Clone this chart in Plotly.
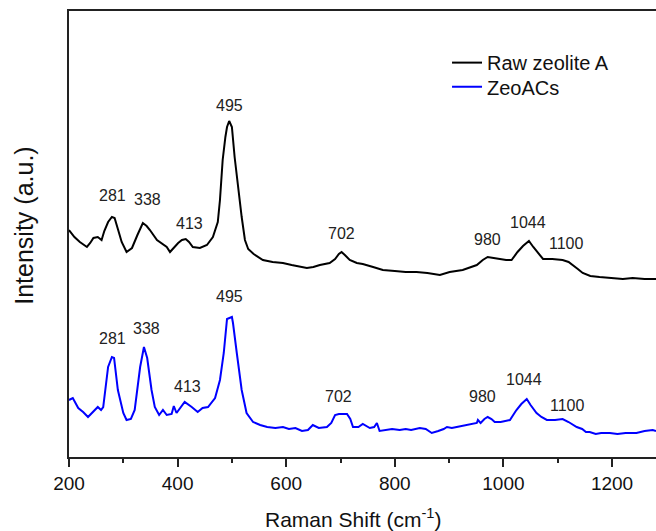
import plotly.graph_objects as go

# Raman shift (cm-1) and intensity (a.u., arbitrary offsets)
raw_x = [200, 210, 220, 233, 239, 245, 253, 260, 265, 272, 279, 284, 290, 297, 306, 316, 326, 336, 343, 349,
         362, 372, 380, 386, 394, 401, 408, 415, 421, 428, 441, 454, 465, 474, 478, 483, 488, 491, 495, 500,
         505, 511, 518, 524, 530, 540, 557, 575, 594, 610, 625, 638, 650, 662, 680, 690, 697, 702, 708, 717,
         730, 741, 760, 778, 800, 820, 840, 860, 883, 901, 925, 940, 951, 962, 971, 982, 993, 1005, 1015, 1026,
         1036, 1047, 1055, 1064, 1073, 1090, 1109, 1120, 1128, 1137, 1146, 1160, 1177, 1200, 1220, 1238, 1260, 1281]
raw_y = [227, 220, 215, 210, 214, 219, 220, 217, 226, 235, 240, 239, 228, 215, 205, 209, 222, 234, 231, 227,
         217, 213, 210, 205, 210, 214, 217, 218, 215, 210, 209, 212, 220, 235, 257, 297, 320, 330, 336, 330,
         300, 270, 240, 217, 208, 203, 197, 195, 194, 192, 190, 189, 190, 192, 194, 198, 203, 205, 202, 197,
         194, 193, 190, 187, 186, 185, 185, 184, 182, 185, 187, 190, 192, 197, 200, 199, 198, 197, 197, 205,
         211, 216, 210, 204, 198, 198, 197, 195, 192, 188, 184, 181, 180, 179, 178, 179, 178, 178]

zeo_x = [200, 207, 217, 226, 235, 244, 253, 259, 263, 272, 279, 283, 290, 300, 306, 314, 321, 331, 338, 344,
         352, 358, 366, 373, 380, 389, 393, 398, 406, 413, 426, 437, 446, 456, 469, 478, 485, 491, 500, 502,
         509, 518, 527, 539, 552, 565, 580, 594, 605, 617, 629, 640, 649, 660, 675, 683, 690, 697, 712, 718,
         723, 733, 741, 748, 754, 762, 767, 772, 785, 795, 809, 820, 830, 846, 857, 868, 880, 890, 896, 905,
         914, 925, 933, 945, 951, 953, 958, 965, 971, 978, 984, 995, 1005, 1012, 1018, 1024, 1033, 1043, 1050, 1056,
         1061, 1070, 1080, 1095, 1109, 1120, 1128, 1135, 1145, 1152, 1159, 1170, 1180, 1196, 1210, 1225, 1245, 1260,
         1275, 1281]
zeo_y = [57, 59, 49, 45, 40, 45, 50, 47, 50, 90, 100, 99, 67, 44, 37, 38, 47, 90, 110, 99,
         67, 50, 42, 47, 42, 43, 51, 44, 50, 55, 50, 45, 49, 50, 59, 77, 104, 138, 140, 134,
         104, 67, 44, 35, 32, 30, 29, 30, 28, 29, 26, 27, 32, 29, 30, 34, 42, 43, 43, 38,
         30, 30, 33, 31, 29, 30, 34, 26, 27, 28, 27, 28, 27, 29, 28, 24, 26, 28, 30, 29,
         30, 31, 32, 33, 34, 37, 34, 38, 40, 38, 35, 35, 36, 37, 42, 47, 53, 58, 52, 47,
         44, 40, 37, 37, 38, 35, 32, 30, 28, 25, 25, 23, 24, 24, 23, 24, 24, 26,
         27, 26]

# Peak labels
peak_labels = ["281", "338", "413", "495", "702", "980", "1044", "1100"]
# label anchor positions (layout): (x, y) for the raw and the ZeoACs curves
raw_label_pos = [(281, 262), (344, 258), (421, 234), (495, 352), (701, 224), (971, 218), (1045, 235), (1117, 214)]
zeo_label_pos = [(281, 119), (342, 129), (419, 71), (495, 161), (697, 61), (962, 61), (1038, 78), (1118, 52)]

x_ticks = [200, 400, 600, 800, 1000, 1200]

FONT = "Liberation Sans, Arial, sans-serif"
AX = "#222222"

fig = go.Figure()
fig.add_trace(go.Scatter(x=raw_x, y=raw_y, mode="lines", name="Raw zeolite A",
                         line=dict(color="#000000", width=2), legend="legend"))
fig.add_trace(go.Scatter(x=zeo_x, y=zeo_y, mode="lines", name="ZeoACs",
                         line=dict(color="#0000ff", width=2), legend="legend2"))

annotations = []
for lab, (px, py) in zip(peak_labels, raw_label_pos):
    annotations.append(dict(x=px, y=py, xref="x", yref="y", text=lab, showarrow=False,
                            font=dict(size=16, color="#222", family=FONT)))
for lab, (px, py) in zip(peak_labels, zeo_label_pos):
    annotations.append(dict(x=px, y=py, xref="x", yref="y", text=lab, showarrow=False,
                            font=dict(size=16, color="#222", family=FONT)))

annotations.append(dict(x=0.4838, y=-0.137, xref="paper", yref="paper",
                        xanchor="center", yanchor="middle",
                        text="Raman Shift (cm<sup>-1</sup>)", showarrow=False,
                        font=dict(size=21, color="#111", family=FONT)))
annotations.append(dict(x=-0.078, y=0.519, xref="paper", yref="paper",
                        xanchor="center", yanchor="middle",
                        text="Intensity (a.u.)", textangle=-90, showarrow=False,
                        font=dict(size=25, color="#111", family=FONT)))

leg_common = dict(xanchor="left", yanchor="top", bgcolor="rgba(0,0,0,0)",
                  font=dict(size=20, family=FONT, color="#111"))

fig.update_layout(
    width=656, height=531,
    margin=dict(l=69, r=0, t=11, b=74),
    paper_bgcolor="white", plot_bgcolor="white",
    font=dict(family=FONT, color="#111"),
    showlegend=True,
    legend=dict(x=0.644, y=0.928, **leg_common),
    legend2=dict(x=0.644, y=0.874, **leg_common),
    annotations=annotations,
    xaxis=dict(range=[200, 1281], tickvals=x_ticks, ticktext=[str(v) for v in x_ticks],
               ticks="outside", ticklen=8, tickwidth=1.5, tickcolor=AX,
               minor=dict(dtick=100, ticks="outside", ticklen=4, tickwidth=1.5, tickcolor=AX),
               showline=True, linecolor=AX, linewidth=1.6, mirror=True,
               showgrid=False, zeroline=False,
               tickfont=dict(size=19, family=FONT, color="#111")),
    yaxis=dict(range=[0, 446], showticklabels=False, ticks="",
               showline=True, linecolor=AX, linewidth=1.6, mirror=False,
               showgrid=False, zeroline=False),
)

fig.write_html("out.html", config={"displayModeBar": False},
               post_script="document.body.style.margin='0';document.body.style.overflow='hidden';")
